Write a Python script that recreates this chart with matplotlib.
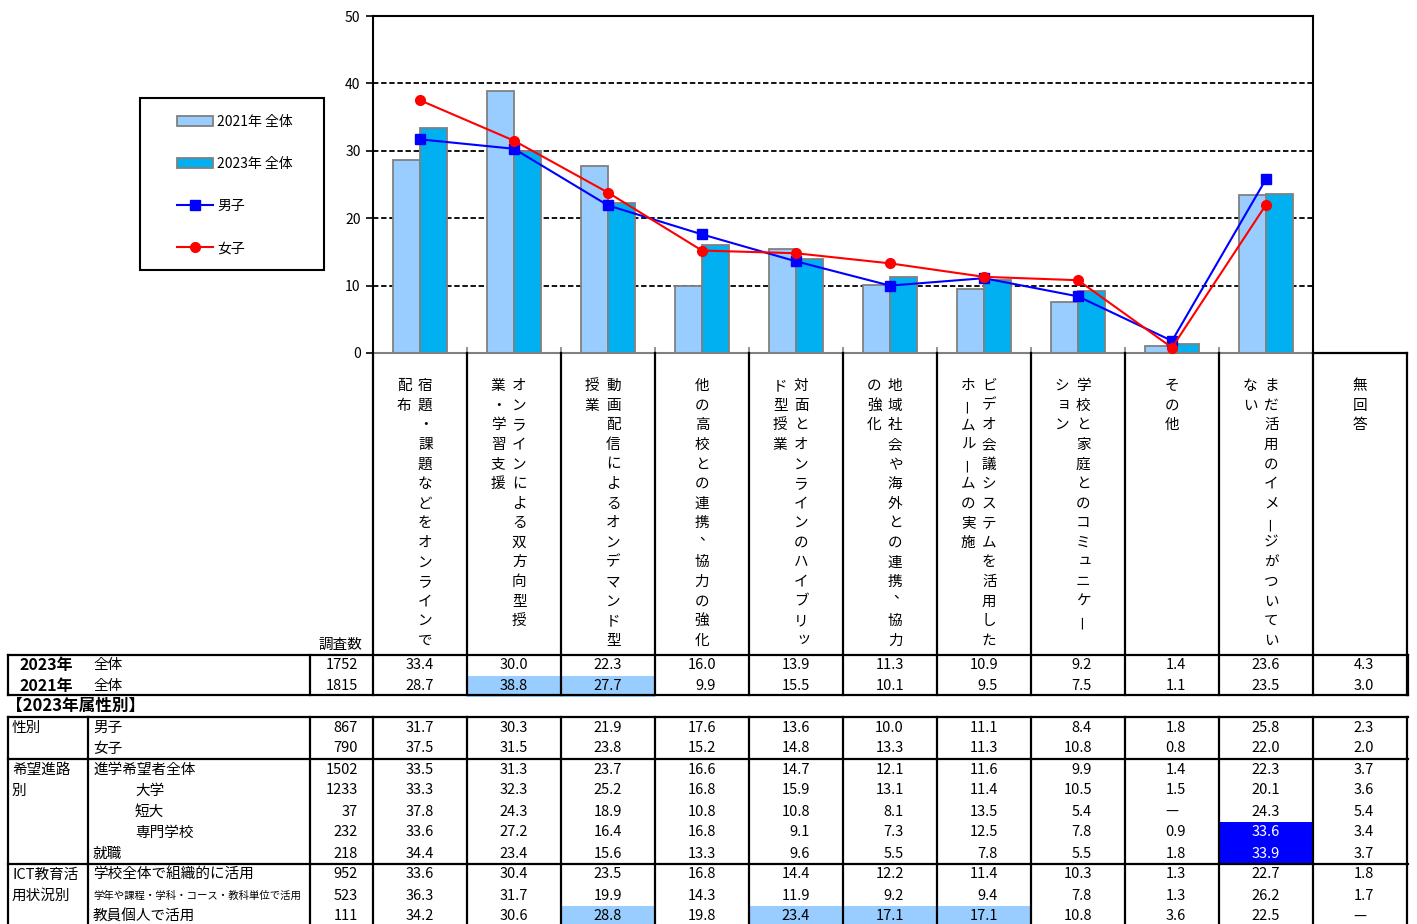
import numpy as np
import matplotlib
matplotlib.use('Agg')
import matplotlib.pyplot as plt
import matplotlib.transforms as mtrans
from matplotlib.patches import Rectangle

plt.rcParams['font.family'] = ['Noto Sans CJK JP', 'DejaVu Sans']

# ---- data ----
headers = ['宿題・課題などをオンラインで\n配布',
           'オンラインによる双方向型授\n業・学習支援',
           '動画配信によるオンデマンド型\n授業',
           '他の高校との連携、協力の強化',
           '対面とオンラインのハイブリッ\nド型授業',
           '地域社会や海外との連携、協力\nの強化',
           'ビデオ会議システムを活用した\nホームルームの実施',
           '学校と家庭とのコミュニケー\nション',
           'その他',
           'まだ活用のイメージがついてい\nない',
           '無回答']

n_2023 = 1752
n_2021 = 1815
total_2023 = [33.4, 30.0, 22.3, 16.0, 13.9, 11.3, 10.9, 9.2, 1.4, 23.6, 4.3]
total_2021 = [28.7, 38.8, 27.7, 9.9, 15.5, 10.1, 9.5, 7.5, 1.1, 23.5, 3.0]

groups = ['性別', '希望進路\n別', 'ICT教育活\n用状況別']
group_start = [0, 2, 7]
row_names = ['男子', '女子', '進学希望者全体', '大学', '短大', '専門学校', '就職',
             '学校全体で組織的に活用', '学年や課程・学科・コース・教科単位で活用', '教員個人で活用']
row_indent = [0, 0, 0, 1, 1, 1, 0, 0, 0, 0]
row_n = [867, 790, 1502, 1233, 37, 232, 218, 952, 523, 111]
row_vals = [
    [31.7, 30.3, 21.9, 17.6, 13.6, 10.0, 11.1, 8.4, 1.8, 25.8, 2.3],
    [37.5, 31.5, 23.8, 15.2, 14.8, 13.3, 11.3, 10.8, 0.8, 22.0, 2.0],
    [33.5, 31.3, 23.7, 16.6, 14.7, 12.1, 11.6, 9.9, 1.4, 22.3, 3.7],
    [33.3, 32.3, 25.2, 16.8, 15.9, 13.1, 11.4, 10.5, 1.5, 20.1, 3.6],
    [37.8, 24.3, 18.9, 10.8, 10.8, 8.1, 13.5, 5.4, None, 24.3, 5.4],
    [33.6, 27.2, 16.4, 16.8, 9.1, 7.3, 12.5, 7.8, 0.9, 33.6, 3.4],
    [34.4, 23.4, 15.6, 13.3, 9.6, 5.5, 7.8, 5.5, 1.8, 33.9, 3.7],
    [33.6, 30.4, 23.5, 16.8, 14.4, 12.2, 11.4, 10.3, 1.3, 22.7, 1.8],
    [36.3, 31.7, 19.9, 14.3, 11.9, 9.2, 9.4, 7.8, 1.3, 26.2, 1.7],
    [34.2, 30.6, 28.8, 19.8, 23.4, 17.1, 17.1, 10.8, 3.6, 22.5, None],
]

n_cat = 10  # 無回答 is not plotted
male = row_vals[0][:n_cat]
female = row_vals[1][:n_cat]

C2021 = '#99CCFF'
C2023 = '#00B0F0'
LBLUE = '#99CCFF'
DBLUE = '#0000FF'
FS = 10.5

W, H = 1417, 924
fig = plt.figure(figsize=(W / 100, H / 100), dpi=100)
ax = fig.add_axes([373 / W, 1 - 353 / H, 940 / W, 337 / H])
ov = fig.add_axes([0, 0, 1, 1])
ov.set_xlim(0, W)
ov.set_ylim(H, 0)
ov.axis('off')

# ---- chart ----
x = np.arange(n_cat)
bw = 0.29
for yv in [10, 20, 30, 40]:
    ax.axhline(yv, color='black', ls=(0, (3, 1.5)), lw=1.3, zorder=1)
b1 = ax.bar(x - bw / 2, total_2021[:n_cat], bw, color=C2021, edgecolor='#808080',
            lw=1.3, zorder=2, label='2021年 全体')
b2 = ax.bar(x + bw / 2, total_2023[:n_cat], bw, color=C2023, edgecolor='#808080',
            lw=1.3, zorder=2, label='2023年 全体')
l1, = ax.plot(x, male, color='#0000FF', marker='s', ms=7, lw=1.5, zorder=3, label='男子')
l2, = ax.plot(x, female, color='#FF0000', marker='o', ms=7, lw=1.5, zorder=3, label='女子')

ax.set_xlim(-0.5, n_cat - 0.5)
ax.set_ylim(0, 50)
ax.set_yticks(np.arange(0, 51, 10))
ax.set_xticks(np.arange(-0.5, n_cat, 1))
ax.set_xticklabels([])
ax.tick_params(axis='y', direction='out', length=5, width=1.2, labelsize=10, pad=4)
ax.tick_params(axis='x', direction='in', length=4, width=1.2, color='#808080')
for s in ['left', 'right', 'top']:
    ax.spines[s].set_linewidth(1.5)
    ax.spines[s].set_color('black')
ax.spines['bottom'].set_color('#808080')
ax.spines['bottom'].set_linewidth(1.5)

# legend
ov.add_patch(Rectangle((140, 98), 184, 172, fill=False, ec='black', lw=1.5))
fig.legend(handles=[b1, b2, l1, l2], loc='upper left',
           bbox_to_anchor=(177 / W, 1 - 115 / H), frameon=False, fontsize=10,
           borderpad=0, borderaxespad=0, handlelength=2.6, handletextpad=0.3,
           labelspacing=2.02, numpoints=1)

# ---- table ----
tr = mtrans.blended_transform_factory(ax.transData, ov.transData)
LW = 1.6
ncol = len(headers)
x_right = ncol - 0.5


def hline(y, px0=8):
    ov.plot([px0, 1408], [y, y], color='black', lw=LW, clip_on=False, solid_capstyle='projecting')


# header
ov.plot([n_cat - 0.5, x_right], [353, 353], color='black', lw=LW, transform=tr, clip_on=False)
for k in range(ncol + 1):
    ov.plot([k - 0.5, k - 0.5], [353, 695], color='black', lw=LW, transform=tr, clip_on=False)

step = 19.6
for k, lab in enumerate(headers):
    lines = lab.split('\n')
    nl = len(lines)
    for j, line in enumerate(lines):
        xo = (nl - 1) / 2 * 0.112 - j * 0.224
        for i, ch in enumerate(line):
            dx, dy, rot = 0, 0, 0
            if ch == 'ー':
                rot = 90
            elif ch == '、':
                dx, dy = 5 / 94, -7
            elif ch in 'ッュョャ':
                dx, dy = 2 / 94, -2
            ov.text(k + xo + dx, 386 + i * step + dy, ch, transform=tr, ha='center',
                    va='center', fontsize=FS, rotation=rot)

ov.text(340, 645, '調査数', ha='center', va='center', fontsize=FS)

# totals block
hline(655)
hline(695)
for px in [8, 310]:
    ov.plot([px, px], [655, 695], color='black', lw=LW)
ov.plot([1408, 1408], [655, 695], color='black', lw=LW)


def cell_color(v, base):
    if v is None:
        return None, 'black'
    d = round(v - base, 1)
    if d >= 10.0:
        return DBLUE, 'white'
    if d >= 5.0:
        return LBLUE, 'black'
    return None, 'black'


def draw_row(y, vals, nval, compare=True):
    ov.text(358, y, str(nval), ha='right', va='center', fontsize=FS)
    for k, v in enumerate(vals):
        fc, tc = cell_color(v, total_2023[k]) if compare else (None, 'black')
        if fc:
            ov.add_patch(Rectangle((k - 0.5, y - 10.5), 1, 21, transform=tr, fc=fc,
                                   ec='none', zorder=0))
        if v is None:
            ov.text(k, y, '—', transform=tr, ha='center', va='center', fontsize=FS, color=tc)
        else:
            ov.text(k + 14 / 94, y, f'{v:.1f}', transform=tr, ha='right', va='center',
                    fontsize=FS, color=tc)


ov.text(20, 665, '2023年', ha='left', va='center', fontsize=11.5, fontweight='bold')
ov.text(93, 665, '全体', ha='left', va='center', fontsize=FS)
draw_row(665, total_2023, n_2023, compare=False)
ov.text(20, 686, '2021年', ha='left', va='center', fontsize=11.5, fontweight='bold')
ov.text(93, 686, '全体', ha='left', va='center', fontsize=FS)
draw_row(686, total_2021, n_2021)

ov.text(6, 706, '【2023年属性別】', ha='left', va='center', fontsize=12, fontweight='bold')

# attribute block
top = 717
rh = 21
hline(top)
for g in group_start[1:]:
    hline(top + g * rh)
for px in [8, 88, 310]:
    ov.plot([px, px], [top, H + 5], color='black', lw=LW, clip_on=False)
for k in range(ncol + 1):
    ov.plot([k - 0.5, k - 0.5], [top, H + 5], color='black', lw=LW, transform=tr, clip_on=False)

for g, gs in zip(groups, group_start):
    for j, part in enumerate(g.split('\n')):
        ov.text(12, top + (gs + j + 0.5) * rh, part, ha='left', va='center', fontsize=FS)

for i, name in enumerate(row_names):
    y = top + (i + 0.5) * rh
    fs = 7.5 if len(name) > 12 else FS
    ov.text(93 + row_indent[i] * 42, y, name, ha='left', va='center', fontsize=fs)
    draw_row(y, row_vals[i], row_n[i])

fig.savefig('out.png', dpi=100)
